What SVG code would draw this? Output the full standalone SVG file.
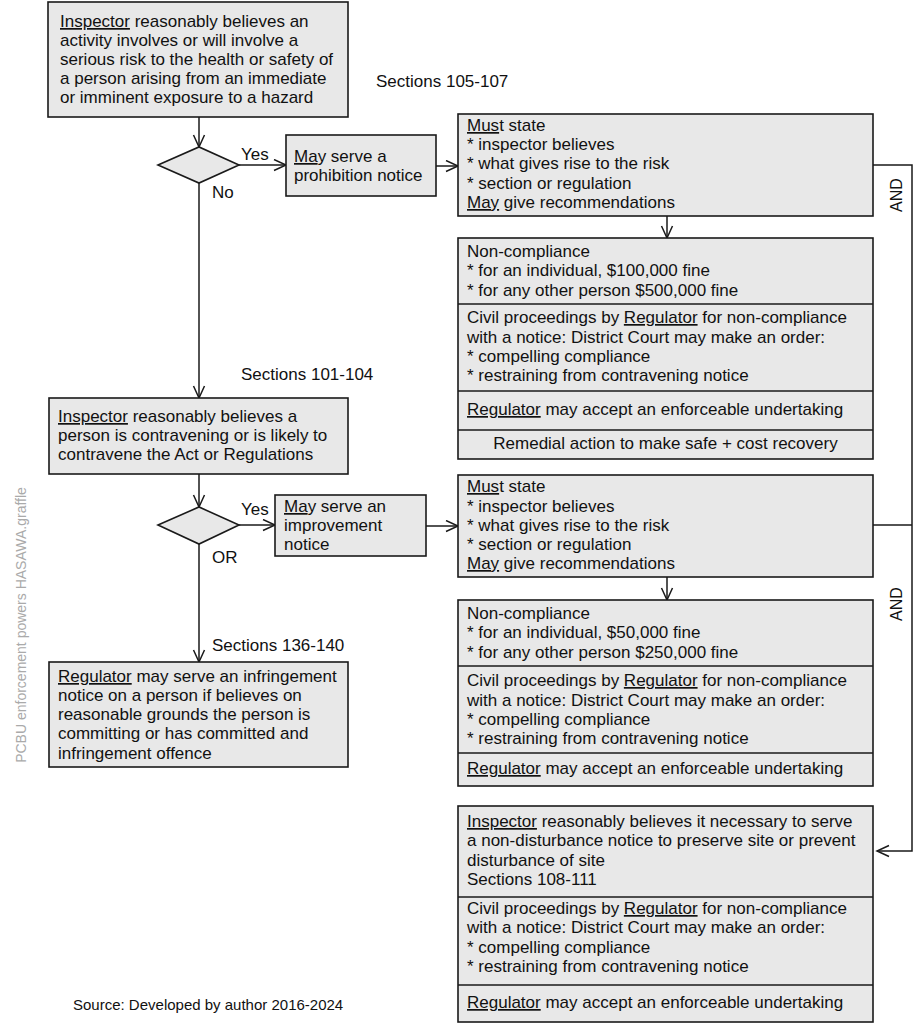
<svg xmlns="http://www.w3.org/2000/svg" width="920" height="1024" viewBox="0 0 920 1024">
<defs>
<style>
.box{fill:#e8e8e8;stroke:#1a1a1a;stroke-width:1.6}
.div{stroke:#1a1a1a;stroke-width:1.6;fill:none}
.ln{stroke:#1a1a1a;stroke-width:1.5;fill:none}
.t{font-family:"Liberation Sans",Arial,Helvetica,sans-serif;font-size:17px;fill:#111}
.lbl{font-family:"Liberation Sans",Arial,Helvetica,sans-serif;font-size:17px;fill:#111}
.u{text-decoration:underline}
.wm{font-family:"Liberation Sans",Arial,Helvetica,sans-serif;font-size:14px;fill:#aaaaaa}
.src{font-family:"Liberation Sans",Arial,Helvetica,sans-serif;font-size:15px;fill:#111}
</style>
<marker id="arr" markerWidth="16" markerHeight="14" refX="13" refY="6.5" orient="auto" markerUnits="userSpaceOnUse">
<path d="M1,1 L13,6.5 L1,12" fill="none" stroke="#1a1a1a" stroke-width="1.5"/>
</marker>
</defs>
<rect width="920" height="1024" fill="#ffffff"/>

<g id="connectors">
<line class="ln" x1="199" y1="117" x2="199" y2="147" marker-end="url(#arr)"/>
<line class="ln" x1="239" y1="165" x2="286" y2="165" marker-end="url(#arr)"/>
<line class="ln" x1="436" y1="166" x2="458" y2="166" marker-end="url(#arr)"/>
<line class="ln" x1="667" y1="216" x2="667" y2="238" marker-end="url(#arr)"/>
<line class="ln" x1="199" y1="183" x2="199" y2="398" marker-end="url(#arr)"/>
<line class="ln" x1="199" y1="474" x2="199" y2="507" marker-end="url(#arr)"/>
<line class="ln" x1="239" y1="525" x2="275" y2="525" marker-end="url(#arr)"/>
<line class="ln" x1="426" y1="526" x2="458" y2="526" marker-end="url(#arr)"/>
<line class="ln" x1="667" y1="577" x2="667" y2="600" marker-end="url(#arr)"/>
<line class="ln" x1="199" y1="544" x2="199" y2="662" marker-end="url(#arr)"/>
<polyline class="ln" points="873,165 912,165 912,851 877,851" marker-end="url(#arr)"/>
<line class="ln" x1="873" y1="525" x2="912" y2="525"/>
<text class="lbl" x="241" y="160">Yes</text>
<text class="lbl" x="212" y="198">No</text>
<text class="lbl" x="376" y="87">Sections 105-107</text>
<text class="lbl" x="241" y="380">Sections 101-104</text>
<text class="lbl" x="241" y="515">Yes</text>
<text class="lbl" x="212" y="563">OR</text>
<text class="lbl" x="212" y="651">Sections 136-140</text>
<text class="lbl" x="0" y="0" font-size="16" text-anchor="middle" transform="translate(902,195) rotate(-90)" style="font-size:16px">AND</text>
<text class="lbl" x="0" y="0" text-anchor="middle" transform="translate(902,604) rotate(-90)" style="font-size:16px">AND</text>
</g>

<g id="n1">
<rect class="box" x="48" y="2" width="300" height="115"/>
<text class="t" x="60" y="27"><tspan class="u">Inspector</tspan> reasonably believes an</text>
<text class="t" x="60" y="46">activity involves or will involve a</text>
<text class="t" x="60" y="65">serious risk to the health or safety of</text>
<text class="t" x="60" y="84">a person arising from an immediate</text>
<text class="t" x="60" y="103">or imminent exposure to a hazard</text>
</g>

<g id="d1">
<polygon class="box" points="158,165 199,147 239,165 199,183"/>
</g>

<g id="n2">
<rect class="box" x="286" y="135" width="150" height="61"/>
<text class="t" x="294" y="162"><tspan class="u">Ma</tspan>y serve a</text>
<text class="t" x="294" y="181">prohibition notice</text>
</g>

<g id="n3">
<rect class="box" x="458" y="114" width="415" height="102"/>
<text class="t" x="467" y="131"><tspan class="u">Mus</tspan>t state</text>
<text class="t" x="467" y="150">* inspector believes</text>
<text class="t" x="467" y="169">* what gives rise to the risk</text>
<text class="t" x="467" y="189">* section or regulation</text>
<text class="t" x="467" y="208"><tspan class="u">May</tspan> give recommendations</text>
</g>

<g id="n4">
<rect class="box" x="458" y="238" width="415" height="221"/>
<line class="div" x1="458" y1="304" x2="873" y2="304"/>
<line class="div" x1="458" y1="391" x2="873" y2="391"/>
<line class="div" x1="458" y1="430" x2="873" y2="430"/>
<text class="t" x="467" y="257">Non-compliance</text>
<text class="t" x="467" y="276">* for an individual, $100,000 fine</text>
<text class="t" x="467" y="296">* for any other person $500,000 fine</text>
<text class="t" x="467" y="323">Civil proceedings by <tspan class="u">Regulator</tspan> for non-compliance</text>
<text class="t" x="467" y="343">with a notice: District Court may make an order:</text>
<text class="t" x="467" y="362">* compelling compliance</text>
<text class="t" x="467" y="381">* restraining from contravening notice</text>
<text class="t" x="467" y="415"><tspan class="u">Regulator</tspan> may accept an enforceable undertaking</text>
<text class="t" x="665.5" y="449" text-anchor="middle">Remedial action to make safe + cost recovery</text>
</g>

<g id="n5">
<rect class="box" x="49" y="398" width="299" height="76"/>
<text class="t" x="58" y="422"><tspan class="u">Inspector</tspan> reasonably believes a</text>
<text class="t" x="58" y="441">person is contravening or is likely to</text>
<text class="t" x="58" y="460">contravene the Act or Regulations</text>
</g>

<g id="d2">
<polygon class="box" points="158,525 199,507 239,525 199,544"/>
</g>

<g id="n6">
<rect class="box" x="275" y="495" width="151" height="61"/>
<text class="t" x="284" y="512"><tspan class="u">Ma</tspan>y serve an</text>
<text class="t" x="284" y="531">improvement</text>
<text class="t" x="284" y="550">notice</text>
</g>

<g id="n7">
<rect class="box" x="458" y="475" width="415" height="102"/>
<text class="t" x="467" y="492"><tspan class="u">Mus</tspan>t state</text>
<text class="t" x="467" y="512">* inspector believes</text>
<text class="t" x="467" y="531">* what gives rise to the risk</text>
<text class="t" x="467" y="550">* section or regulation</text>
<text class="t" x="467" y="569"><tspan class="u">May</tspan> give recommendations</text>
</g>

<g id="n8">
<rect class="box" x="458" y="600" width="415" height="186"/>
<line class="div" x1="458" y1="666" x2="873" y2="666"/>
<line class="div" x1="458" y1="753" x2="873" y2="753"/>
<text class="t" x="467" y="619">Non-compliance</text>
<text class="t" x="467" y="638">* for an individual, $50,000 fine</text>
<text class="t" x="467" y="658">* for any other person $250,000 fine</text>
<text class="t" x="467" y="686">Civil proceedings by <tspan class="u">Regulator</tspan> for non-compliance</text>
<text class="t" x="467" y="706">with a notice: District Court may make an order:</text>
<text class="t" x="467" y="725">* compelling compliance</text>
<text class="t" x="467" y="744">* restraining from contravening notice</text>
<text class="t" x="467" y="774"><tspan class="u">Regulator</tspan> may accept an enforceable undertaking</text>
</g>

<g id="n9">
<rect class="box" x="49" y="662" width="299" height="105"/>
<text class="t" x="58" y="682"><tspan class="u">Regulator</tspan> may serve an infringement</text>
<text class="t" x="58" y="701">notice on a person if believes on</text>
<text class="t" x="58" y="720">reasonable grounds the person is</text>
<text class="t" x="58" y="739">committing or has committed and</text>
<text class="t" x="58" y="759">infringement offence</text>
</g>

<g id="n10">
<rect class="box" x="458" y="806" width="415" height="216"/>
<line class="div" x1="458" y1="897" x2="873" y2="897"/>
<line class="div" x1="458" y1="985" x2="873" y2="985"/>
<text class="t" x="467" y="827"><tspan class="u">Inspector</tspan> reasonably believes it necessary to serve</text>
<text class="t" x="467" y="846">a non-disturbance notice to preserve site or prevent</text>
<text class="t" x="467" y="866">disturbance of site</text>
<text class="t" x="467" y="885">Sections 108-111</text>
<text class="t" x="467" y="914">Civil proceedings by <tspan class="u">Regulator</tspan> for non-compliance</text>
<text class="t" x="467" y="933">with a notice: District Court may make an order:</text>
<text class="t" x="467" y="953">* compelling compliance</text>
<text class="t" x="467" y="972">* restraining from contravening notice</text>
<text class="t" x="467" y="1008"><tspan class="u">Regulator</tspan> may accept an enforceable undertaking</text>
</g>

<g id="watermark">
<text class="wm" x="0" y="0" text-anchor="middle" transform="translate(26,625) rotate(-90)">PCBU enforcement powers HASAWA.graffle</text>
</g>

<g id="source">
<text class="src" x="73" y="1010">Source: Developed by author 2016-2024</text>
</g>
</svg>
